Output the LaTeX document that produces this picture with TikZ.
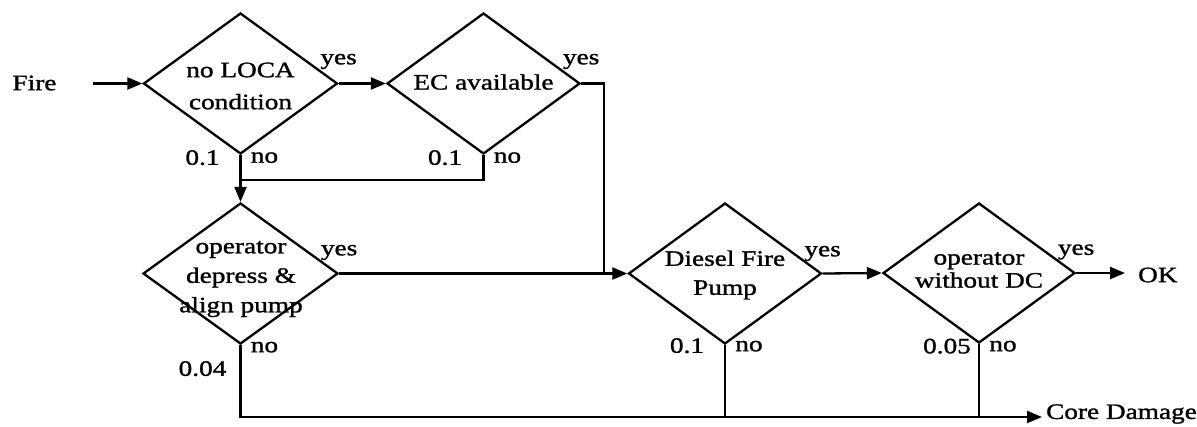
\documentclass[tikz,border=0pt]{standalone}
\usepackage{fontspec}
\setmainfont{Liberation Serif}[FakeStretch=1.24,FakeBold=1.3]
\usetikzlibrary{shapes.geometric,arrows.meta,calc}
\begin{document}
\begin{tikzpicture}[x=1pt,y=-1pt,
  line width=2.3pt,
  dia/.style={draw, diamond, minimum width=194pt, minimum height=141pt, inner sep=0pt},
  txt/.style={align=center, inner sep=0pt},
  lbl/.style={font=\fontsize{22}{26}\selectfont, inner sep=0pt},
  arr/.style={-{Triangle[length=15pt,width=12pt]}}
]
\useasboundingbox (0,0) rectangle (1197,426);

% decision diamonds
\node[dia] (d1) at (240.5,83.5) {};
\node[dia, minimum width=193pt] (d2) at (483.5,83.5) {};
\node[dia, minimum width=195pt] (d3) at (240.5,273.5) {};
\node[dia, minimum width=193pt] (d4) at (725,273.5) {};
\node[dia, minimum width=192pt, minimum height=140pt] (d5) at (979,273) {};

% diamond texts
\node[txt, font=\fontsize{22}{32}\selectfont] (t1) at (240.5,86) {no LOCA\\condition};
\node[txt, font=\fontsize{22}{30}\selectfont] (t2) at (483.5,82) {EC available};
\node[txt, font=\fontsize{22}{29.5}\selectfont] (t3) at (241,279) {operator\\depress \&\\align pump};
\node[txt, font=\fontsize{22}{29}\selectfont] (t4) at (725,275) {Diesel Fire\\Pump};
\node[txt, font=\fontsize{22}{23}\selectfont] (t5) at (979,270) {operator\\without DC};

% yes labels
\node[lbl] (y1) at ($(d1.east)+(0,-22)$) {yes};
\node[lbl] (y2) at ($(d2.east)+(0,-22)$) {yes};
\node[lbl] (y3) at ($(d3.east)+(0,-21)$) {yes};
\node[lbl] (y4) at ($(d4.east)+(0,-20)$) {yes};
\node[lbl] (y5) at ($(d5.east)+(0,-21)$) {yes};

% no labels
\node[lbl] (n1) at ($(d1.south)+(24,2.5)$) {no};
\node[lbl] (n2) at ($(d2.south)+(24,2.5)$) {no};
\node[lbl] (n3) at ($(d3.south)+(24,2)$) {no};
\node[lbl] (n4) at ($(d4.south)+(24,1)$) {no};
\node[lbl] (n5) at ($(d5.south)+(24,2)$) {no};

% probabilities
\node[lbl] (p1) at ($(d1.south)+(-38,2.5)$) {0.1};
\node[lbl] (p2) at ($(d2.south)+(-38.5,2.5)$) {0.1};
\node[lbl] (p3) at ($(d3.south)+(-38,23.5)$) {0.04};
\node[lbl] (p4) at ($(d4.south)+(-38,0.5)$) {0.1};
\node[lbl] (p5) at ($(d5.south)+(-32,2)$) {0.05};

% terminals
\node[lbl] (fire) at (34.5,83) {Fire};
\coordinate (fs) at (93,83.5);
\node[lbl, anchor=west] (ok) at (1137,275) {OK};
\coordinate (oktip) at (1125,273);
\node[lbl, anchor=west] (cd) at (1045,414) {Core Damage};
\coordinate (cdtip) at (1042,417);

% junctions
\coordinate (j1) at (240.5,180);
\coordinate (j2) at (604,273.5);

% connectors
\draw[arr] (fs) -- (d1.west);
\draw[arr] (d1.east) -- (d2.west);
\draw[arr] (d1.south) -- (d3.north);
\draw (d2.south) |- (j1);
\draw (d2.east) -| (j2);
\draw[arr] (d3.east) -- (d4.west);
\draw[arr] (d4.east) -- (d5.west);
\draw[arr] (d5.east) -- (oktip);
\draw[arr] (d3.south) |- (cdtip);
\draw (d4.south) -- (d4.south |- cdtip);
\draw (d5.south) -- (d5.south |- cdtip);
\end{tikzpicture}
\end{document}
